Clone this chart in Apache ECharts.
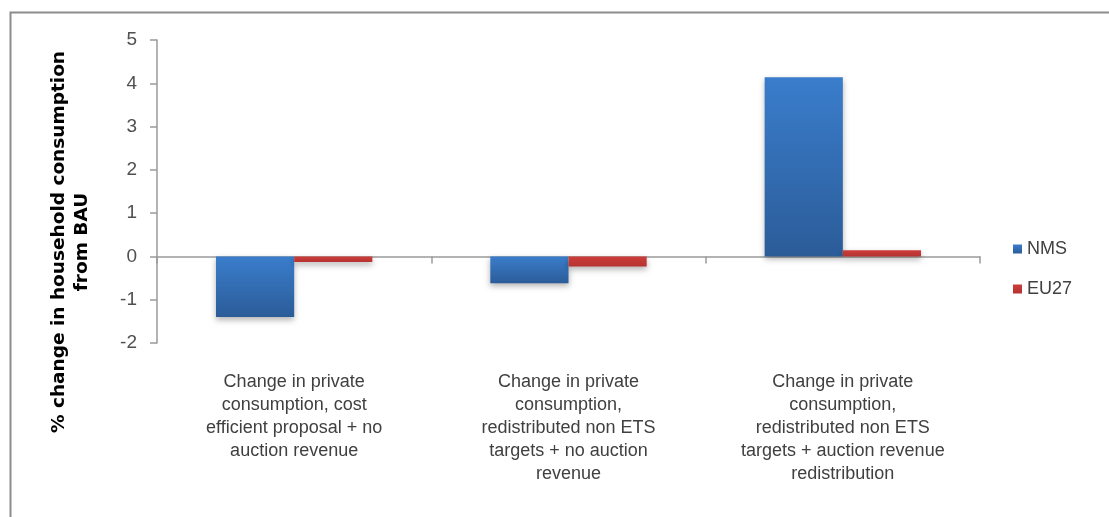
<!DOCTYPE html>
<html>
<head>
<meta charset="utf-8">
<script src="https://cdn.jsdelivr.net/npm/echarts@6/dist/echarts.min.js"></script>
<style>
  html, body { margin: 0; padding: 0; background: #fff; }
  #main { width: 1109px; height: 517px; }
</style>
</head>
<body>
<div id="main"></div>
<script>
// categories (manually wrapped like the original)
var categories = [
  "Change in private\nconsumption, cost\nefficient proposal + no\nauction revenue",
  "Change in private\nconsumption,\nredistributed non ETS\ntargets + no auction\nrevenue",
  "Change in private\nconsumption,\nredistributed non ETS\ntargets + auction revenue\nredistribution"
];
var nmsValues = [-1.4, -0.62, 4.14];
var eu27Values = [-0.13, -0.23, 0.14];
var yTicks = { min: -2, max: 5, interval: 1 };

var myChart = echarts.init(document.getElementById("main"));

var blueFill = new echarts.graphic.LinearGradient(0, 0, 0, 1, [
  { offset: 0, color: "#3a7dcc" },
  { offset: 1, color: "#2b5c98" }
]);
var redFill = new echarts.graphic.LinearGradient(0, 0, 0, 1, [
  { offset: 0, color: "#cc3d3a" },
  { offset: 1, color: "#b53331" }
]);

var option = {
  animation: false,
  backgroundColor: "#fff",
  grid: { left: 157, right: 129, top: 40, bottom: 174 },
  legend: {
    orient: "vertical",
    left: 1008,
    top: 235,
    itemWidth: 9,
    itemHeight: 9,
    itemGap: 22,
    icon: "rect",
    textStyle: { fontFamily: "Liberation Sans", fontSize: 18, color: "#404040" },
    data: ["NMS", "EU27"]
  },
  xAxis: [
    {
      // axis line sitting on zero with ticks at category boundaries
      type: "category",
      data: categories,
      axisLine: { onZero: true, lineStyle: { color: "#9a9a9a", width: 1.5 } },
      axisTick: { show: true, length: 7, lineStyle: { color: "#9a9a9a", width: 1.5 } },
      axisLabel: { show: false }
    },
    {
      // labels at the bottom
      type: "category",
      position: "bottom",
      data: categories,
      axisLine: { show: false, onZero: false },
      axisTick: { show: false },
      axisLabel: {
        margin: 28,
        interval: 0,
        fontFamily: "Liberation Sans",
        fontSize: 18,
        lineHeight: 23,
        color: "#404040"
      }
    }
  ],
  yAxis: {
    type: "value",
    min: yTicks.min,
    max: yTicks.max,
    interval: yTicks.interval,
    splitLine: { show: false },
    axisLine: { show: true, lineStyle: { color: "#9a9a9a", width: 1.5 } },
    axisTick: { show: true, length: 7, lineStyle: { color: "#9a9a9a", width: 1.5 } },
    axisLabel: { margin: 20, fontFamily: "Liberation Sans", fontSize: 19, color: "#505050" }
  },
  series: [
    {
      name: "NMS",
      type: "bar",
      xAxisIndex: 0,
      data: nmsValues,
      barWidth: "28.5%",
      barGap: "0%",
      itemStyle: {
        color: blueFill,
        shadowBlur: 6,
        shadowColor: "rgba(0,0,0,0.3)",
        shadowOffsetY: 3
      }
    },
    {
      name: "EU27",
      type: "bar",
      xAxisIndex: 0,
      data: eu27Values,
      barWidth: "28.5%",
      itemStyle: {
        color: redFill,
        shadowBlur: 6,
        shadowColor: "rgba(0,0,0,0.3)",
        shadowOffsetY: 3
      }
    }
  ],
  graphic: [
    {
      type: "rect",
      left: 8,
      top: 10,
      shape: { width: 1130, height: 530 },
      style: { fill: null, stroke: "#8c8c8c", lineWidth: 2 },
      silent: true
    },
    {
      type: "text",
      x: 71,
      y: 242,
      rotation: Math.PI / 2,
      style: {
        text: "% change in household consumption\nfrom BAU",
        align: "center",
        verticalAlign: "middle",
        fontFamily: "DejaVu Sans",
        fontWeight: "bold",
        fontSize: 18.5,
        lineHeight: 23,
        fill: "#000"
      }
    }
  ]
};

myChart.setOption(option);
</script>
</body>
</html>
